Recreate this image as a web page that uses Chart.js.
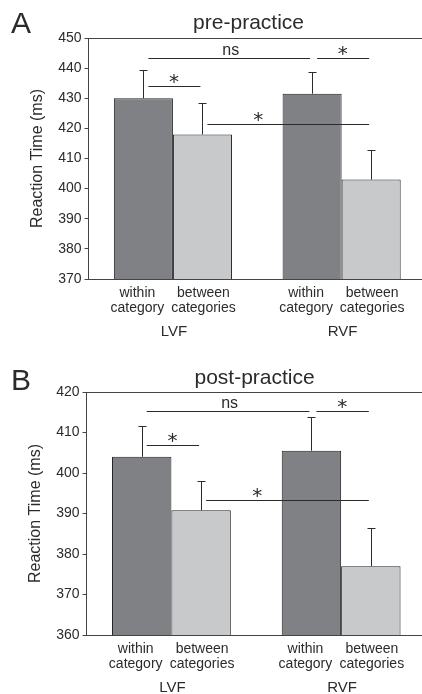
<!DOCTYPE html>
<html>
<head>
<meta charset="utf-8">
<script src="https://cdn.jsdelivr.net/npm/chart.js@4.4.1/dist/chart.umd.min.js"></script>
<style>
  html, body { margin: 0; padding: 0; background: #fff; overflow: hidden; width: 422px; }
  .panel { position: relative; width: 426px; }
  #wrapA { height: 340px; }
  #wrapB { height: 354px; }
</style>
</head>
<body>
<div class="panel" id="wrapA"><canvas id="chartA"></canvas></div>
<div class="panel" id="wrapB"><canvas id="chartB"></canvas></div>
<script>
// categories / sub-categories
const fields = ['LVF', 'RVF'];
const conditions = ['within category', 'between categories'];

// pre-practice (panel A)
const preWithin = [430, 431.5];
const preBetween = [418, 403];
const preWithinErr = [9.4, 7.1];
const preBetweenErr = [10.4, 9.8];
const preTicks = [370, 380, 390, 400, 410, 420, 430, 440, 450];

// post-practice (panel B)
const postWithin = [404, 405.5];
const postBetween = [390.8, 377];
const postWithinErr = [7.5, 8.4];
const postBetweenErr = [7.2, 9.3];
const postTicks = [360, 370, 380, 390, 400, 410, 420];

// significance brackets: bar indices (0..3 left to right), level, label, label sits between bars "at"
const preSig = [
  { from: 0, to: 2, y: 443.3, text: 'ns', at: [0, 2] },
  { from: 2, to: 3, y: 443.3, text: '*', at: [2, 3] },
  { from: 0, to: 1, y: 434.2, text: '*', at: [0, 1] },
  { from: 1, to: 3, y: 421.6, text: '*', at: [1, 2] }
];
const postSig = [
  { from: 0, to: 2, y: 415.3, text: 'ns', at: [0, 2] },
  { from: 2, to: 3, y: 415.3, text: '*', at: [2, 3] },
  { from: 0, to: 1, y: 407, text: '*', at: [0, 1] },
  { from: 1, to: 3, y: 393.3, text: '*', at: [1, 2] }
];

const FONT = 'Arial, "Liberation Sans", Helvetica, sans-serif';
const INK = '#2b2b2b';

// bar elements in left-to-right order
function barCenters(chart) {
  const m0 = chart.getDatasetMeta(0).data;
  const m1 = chart.getDatasetMeta(1).data;
  return [m0[0], m1[0], m0[1], m1[1]];
}

const extrasPlugin = {
  id: 'extras',
  afterDatasetsDraw(chart, args, opts) {
    const ctx = chart.ctx;
    const area = chart.chartArea;
    const y = chart.scales.y;
    const x = chart.scales.x;
    const bars = barCenters(chart);
    const ds = chart.data.datasets;
    const errs = [opts.err[0][0], opts.err[1][0], opts.err[0][1], opts.err[1][1]];
    const vals = [ds[0].data[0], ds[1].data[0], ds[0].data[1], ds[1].data[1]];
    ctx.save();

    // top frame line
    ctx.strokeStyle = '#444';
    ctx.lineWidth = 1;
    ctx.beginPath();
    ctx.moveTo(area.left, Math.round(area.top) + 0.5);
    ctx.lineTo(area.right, Math.round(area.top) + 0.5);
    ctx.stroke();

    // error bars (upper half only)
    ctx.strokeStyle = INK;
    bars.forEach((b, i) => {
      const bx = Math.round(b.x) + 0.5;
      const yTop = Math.round(y.getPixelForValue(vals[i] + errs[i])) + 0.5;
      ctx.beginPath();
      ctx.moveTo(bx, b.y);
      ctx.lineTo(bx, yTop);
      ctx.moveTo(bx - 4, yTop);
      ctx.lineTo(bx + 4, yTop);
      ctx.stroke();
    });

    // significance brackets
    opts.sig.forEach(s => {
      const yy = Math.round(y.getPixelForValue(s.y)) + 0.5;
      const x1 = bars[s.from].x + 5;
      const x2 = bars[s.to].x - 2;
      ctx.strokeStyle = INK;
      ctx.beginPath();
      ctx.moveTo(x1, yy);
      ctx.lineTo(x2, yy);
      ctx.stroke();
      const tx = (bars[s.at[0]].x + bars[s.at[1]].x) / 2 + (s.text === 'ns' ? 3 : 1);
      ctx.fillStyle = INK;
      ctx.textAlign = 'center';
      ctx.textBaseline = 'alphabetic';
      if (s.text === 'ns') {
        ctx.font = '16px ' + FONT;
        ctx.fillText(s.text, tx, yy - 4);
      } else {
        // centre the asterisk glyph about 8px above the line
        ctx.font = '20px "DejaVu Sans", sans-serif';
        const m = ctx.measureText(s.text);
        const base = yy - 8 + (m.actualBoundingBoxAscent - m.actualBoundingBoxDescent) / 2;
        ctx.fillText(s.text, tx, base);
      }
    });

    // condition labels under each bar, field labels under each group
    ctx.fillStyle = INK;
    ctx.textAlign = 'center';
    ctx.textBaseline = 'middle';
    ctx.font = '14px ' + FONT;
    bars.forEach((b, i) => {
      const words = conditions[i % 2].split(' ');
      const lx = b.x - (i % 2 ? -1 : 6);
      ctx.fillText(words[0], lx, area.bottom + 14.5);
      ctx.fillText(words[1], lx, area.bottom + 29.5);
    });
    ctx.font = '15px ' + FONT;
    fields.forEach((f, i) => {
      ctx.fillText(f, x.getPixelForValue(i) + 1, area.bottom + 53);
    });

    // panel title and letter
    ctx.font = '21px ' + FONT;
    ctx.fillText(opts.title, area.left + opts.titleDx, opts.titleY);
    ctx.font = '30px ' + FONT;
    ctx.fillText(opts.letter, 21, opts.letterY);
    ctx.restore();
  }
};

function makeChart(id, within, between, err, ticks, sig, cfg) {
  return new Chart(document.getElementById(id), {
    type: 'bar',
    data: {
      labels: fields,
      datasets: [
        { label: conditions[0], data: within, backgroundColor: '#808185',
          borderColor: '#222', borderWidth: 1, borderSkipped: 'bottom' },
        { label: conditions[1], data: between, backgroundColor: '#c8c9cb',
          borderColor: '#222', borderWidth: 1, borderSkipped: 'bottom' }
      ]
    },
    options: {
      responsive: true,
      maintainAspectRatio: false,
      animation: false,
      events: [],
      layout: { padding: { left: cfg.padLeft, right: 0, top: cfg.padTop, bottom: cfg.padBottom } },
      datasets: { bar: { categoryPercentage: 0.70, barPercentage: 1.0 } },
      plugins: {
        legend: { display: false },
        tooltip: { enabled: false },
        extras: { err: err, sig: sig, title: cfg.title, titleDx: cfg.titleDx,
                  titleY: cfg.titleY, letter: cfg.letter, letterY: cfg.letterY }
      },
      scales: {
        x: {
          grid: { display: false, drawTicks: false },
          border: { color: '#444', width: 1 },
          ticks: { display: false }
        },
        y: {
          min: ticks[0],
          max: ticks[ticks.length - 1],
          afterBuildTicks: (s) => { s.ticks = ticks.map(v => ({ value: v })); },
          grid: { drawOnChartArea: false, drawTicks: true, tickLength: 4, color: '#444' },
          border: { color: '#444', width: 1 },
          ticks: { color: INK, font: { family: FONT, size: 14 }, padding: 3 },
          title: { display: true, text: 'Reaction Time (ms)', color: INK,
                   font: { family: FONT, size: 16 }, padding: { top: 9, bottom: 8 } }
        }
      }
    },
    plugins: [extrasPlugin]
  });
}

makeChart('chartA', preWithin, preBetween, [preWithinErr, preBetweenErr], preTicks, preSig,
  { padLeft: 19, padTop: 38, padBottom: 61, title: 'pre-practice', titleDx: 160, titleY: 23,
    letter: 'A', letterY: 25 });
makeChart('chartB', postWithin, postBetween, [postWithinErr, postBetweenErr], postTicks, postSig,
  { padLeft: 17, padTop: 52, padBottom: 59, title: 'post-practice', titleDx: 168, titleY: 38,
    letter: 'B', letterY: 42 });
</script>
</body>
</html>
